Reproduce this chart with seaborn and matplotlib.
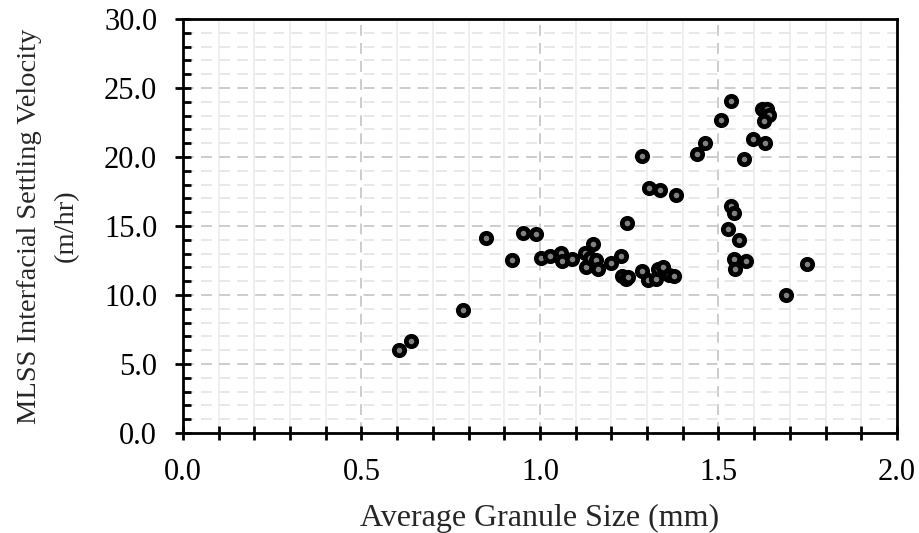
import numpy as np
import pandas as pd
import seaborn as sns
import matplotlib.pyplot as plt
from matplotlib.ticker import MultipleLocator, FormatStrFormatter

# average granule size (mm) vs MLSS interfacial settling velocity (m/hr)
granule_size = [0.605, 0.639, 0.785, 0.850, 0.922, 0.953, 0.989, 1.003, 1.029, 1.059,
                1.061, 1.090, 1.126, 1.129, 1.140, 1.150, 1.157, 1.164, 1.199, 1.228,
                1.229, 1.242, 1.248, 1.243, 1.286, 1.285, 1.303, 1.305, 1.324, 1.332,
                1.336, 1.346, 1.362, 1.376, 1.382, 1.439, 1.463, 1.508, 1.535, 1.535,
                1.545, 1.526, 1.559, 1.543, 1.547, 1.577, 1.572, 1.597, 1.621, 1.637,
                1.642, 1.628, 1.631, 1.688, 1.748]
settling_velocity = [6.02, 6.67, 8.88, 14.13, 12.52, 14.47, 14.42, 12.66, 12.83, 13.07,
                     12.46, 12.59, 13.02, 12.05, 12.70, 13.70, 12.54, 11.91, 12.30, 12.83,
                     11.38, 11.16, 11.33, 15.19, 20.10, 11.76, 11.09, 17.77, 11.14, 11.86,
                     17.62, 12.01, 11.45, 11.38, 17.23, 20.22, 20.99, 22.68, 24.05, 16.47,
                     15.92, 14.76, 13.99, 12.59, 11.86, 12.49, 19.88, 21.30, 23.48, 23.45,
                     23.04, 22.63, 20.99, 10.00, 12.25]

df = pd.DataFrame({'size': granule_size, 'velocity': settling_velocity})

sns.set_style('white')
plt.rcParams['font.family'] = ['Liberation Serif', 'DejaVu Serif']

fig = plt.figure(figsize=(9.19, 5.33), dpi=100)
ax = fig.add_axes([0.199, 0.1876, 0.777, 0.7766])

sns.scatterplot(data=df, x='size', y='velocity', ax=ax, s=56,
                color='#808080', edgecolor='black', linewidth=3.4, zorder=3)

ax.set_xlim(0, 2.0)
ax.set_ylim(0, 30.0)
ax.xaxis.set_major_locator(MultipleLocator(0.5))
ax.xaxis.set_minor_locator(MultipleLocator(0.1))
ax.yaxis.set_major_locator(MultipleLocator(5))
ax.yaxis.set_minor_locator(MultipleLocator(1))
ax.xaxis.set_major_formatter(FormatStrFormatter('%.1f'))
ax.yaxis.set_major_formatter(FormatStrFormatter('%.1f'))

# gridlines
ax.set_axisbelow(True)
ax.xaxis.grid(True, which='major', color='#c8c8c8', linestyle=(0, (6, 4)), linewidth=1.3)
ax.yaxis.grid(True, which='major', color='#c8c8c8', linestyle=(0, (6, 4)), linewidth=1.3)
ax.xaxis.grid(True, which='minor', color='#eeeeee', linestyle='-', linewidth=1.3)
ax.yaxis.grid(True, which='minor', color='#e6e6e6', linestyle=(0, (6, 4)), linewidth=1.3)

for sp in ax.spines.values():
    sp.set_visible(True)
    sp.set_color('black')
    sp.set_linewidth(2)

ax.tick_params(axis='x', which='both', direction='inout', length=10, width=2,
               colors='black', labelsize=22, pad=13)
ax.tick_params(axis='y', which='major', direction='inout', length=11, width=2,
               colors='black', labelsize=22, pad=13)
ax.tick_params(axis='y', which='minor', direction='in', length=6, width=2, colors='black')
ax.tick_params(left=True, bottom=True, which='both')

ax.set_xlabel('Average Granule Size (mm)', fontsize=23, labelpad=12)
ax.set_ylabel('MLSS Interfacial Settling Velocity\n(m/hr)', fontsize=20.5, labelpad=18,
              linespacing=1.6)

plt.savefig('out.png', dpi=100)
